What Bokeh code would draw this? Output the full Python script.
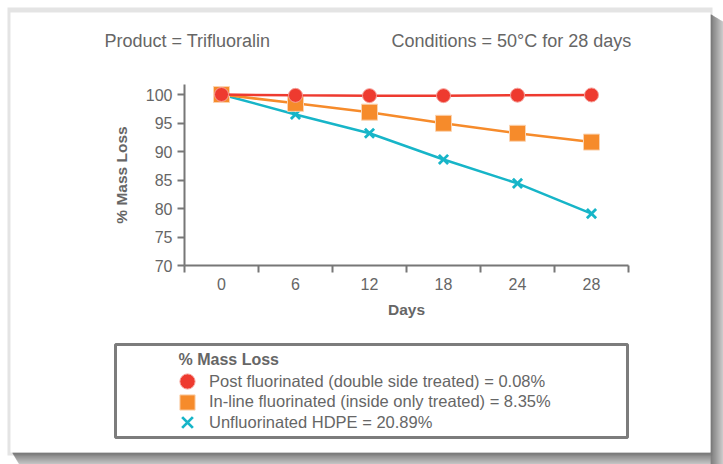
from bokeh.plotting import figure
from bokeh.models import FixedTicker, BoxAnnotation, Label, Legend, LegendItem, Range1d
from bokeh.embed import file_html
from bokeh.resources import INLINE

# ---- data ----
day_labels = ["0", "6", "12", "18", "24", "28"]
post_fluorinated = [100.0, 99.85, 99.8, 99.8, 99.88, 99.92]
inline_fluorinated = [100.0, 98.45, 96.9, 94.95, 93.2, 91.65]
unfluorinated = [100.0, 96.5, 93.2, 88.6, 84.4, 79.11]
y_ticks = [70, 75, 80, 85, 90, 95, 100]
y_min, y_top = 70, 101.75
header_left = "Product = Trifluoralin"
header_right = "Conditions = 50°C for 28 days"
x_title = "Days"
y_title = "% Mass Loss"
legend_title = "% Mass Loss"
legend_labels = [
    "Post fluorinated (double side treated) = 0.08%",
    "In-line fluorinated (inside only treated) = 8.35%",
    "Unfluorinated HDPE = 20.89%",
]

# ---- style / layout ----
RED = "#EE3A2F"
ORANGE = "#F68B2B"
CYAN = "#17B5C8"
AXIS = "#777777"
TEXT = "#666666"
FONT = "Liberation Sans"

W, H = 723, 464
PLOT_L, PLOT_R = 184, 628        # pixel extent of the category axis
X_AXIS_Y, Y100_PX = 265, 94      # pixel of y=70 and y=100
n = len(day_labels)
cat_w = (PLOT_R - PLOT_L) / n
px_per_unit = (X_AXIS_Y - Y100_PX) / (100 - y_min)
xs = list(range(n))

x_range = Range1d(-0.5 - PLOT_L / cat_w, -0.5 + (W - PLOT_L) / cat_w)
y_range = Range1d(y_min - (H - X_AXIS_Y) / px_per_unit, y_min + X_AXIS_Y / px_per_unit)

p = figure(width=W, height=H, output_backend="svg", toolbar_location=None,
           x_range=x_range, y_range=y_range,
           min_border_left=0, min_border_right=0, min_border_top=0, min_border_bottom=0)
p.border_fill_color = "white"
p.background_fill_color = "white"
p.outline_line_color = None
p.grid.visible = False


def sy(v):
    return H - v


def box(l, r, t, b, color, level="underlay", **kw):
    return BoxAnnotation(left=l, right=r, top=sy(t), bottom=sy(b),
                         left_units="screen", right_units="screen",
                         top_units="screen", bottom_units="screen",
                         fill_color=color, fill_alpha=1 if color else 0,
                         level=level, **kw)


# ---- card and shadow ----
p.add_layout(box(7, 712, 7, 455, "#e4e4e4", line_color=None))
shade = ["#555555", "#5b5b5b", "#626262", "#6a6a6a", "#727272", "#7b7b7b", "#848484",
         "#8d8d8d", "#969696", "#9f9f9f", "#a8a8a8", "#b1b1b1", "#bababa"]
for i, c in enumerate(shade):
    p.add_layout(box(710 + i, 711 + i, 14 + i * 0.6, H, c, line_color=None))
    if i < 12:
        p.add_layout(box(12 + i * 0.6, 710, 452 + i, 453 + i, c, line_color=None))
p.add_layout(box(10, 710, 12, 452, "white", line_color=None))

# ---- axes ----
p.xaxis.fixed_location = y_min
p.xaxis.bounds = (-0.5, n - 0.5)
p.xaxis.ticker = FixedTicker(ticks=xs, minor_ticks=[i - 0.5 for i in range(n + 1)])
p.xaxis.major_label_overrides = {i: lab for i, lab in enumerate(day_labels)}
p.xaxis.major_tick_line_color = None
p.xaxis.major_tick_out = 6
p.xaxis.major_tick_in = 0
p.xaxis.minor_tick_line_color = AXIS
p.xaxis.minor_tick_line_width = 2
p.xaxis.minor_tick_out = 7
p.xaxis.minor_tick_in = 0
p.xaxis.major_label_standoff = 5
p.xaxis.axis_label = x_title
p.xaxis.axis_label_standoff = 8

p.yaxis.fixed_location = -0.5
p.yaxis.bounds = (y_min, y_top)
p.yaxis.ticker = FixedTicker(ticks=y_ticks)
p.yaxis.major_tick_line_color = AXIS
p.yaxis.major_tick_line_width = 2
p.yaxis.major_tick_out = 7
p.yaxis.major_tick_in = 0
p.yaxis.minor_tick_line_color = None
p.yaxis.major_label_standoff = 5
p.yaxis.axis_label = y_title
p.yaxis.axis_label_standoff = 13

for ax in (p.xaxis, p.yaxis):
    ax.axis_line_color = AXIS
    ax.axis_line_width = 2
    ax.major_label_text_font = FONT
    ax.major_label_text_font_size = "16px"
    ax.major_label_text_color = TEXT
    ax.axis_label_text_font = FONT
    ax.axis_label_text_font_size = "15.5px"
    ax.axis_label_text_font_style = "bold"
    ax.axis_label_text_color = TEXT

# ---- series ----
p.line(xs, unfluorinated, line_color=CYAN, line_width=2.5)
r_cyan = p.scatter(xs, unfluorinated, marker="x", size=13, line_color=CYAN, line_width=2.8)
p.line(xs, inline_fluorinated, line_color=ORANGE, line_width=2.5)
r_orange = p.scatter(xs, inline_fluorinated, marker="square", size=16, fill_color=ORANGE,
                     line_color="#fbd3b0", line_width=1)
p.line(xs, post_fluorinated, line_color=RED, line_width=2.5)
r_red = p.scatter(xs, post_fluorinated, marker="circle", size=14, fill_color=RED,
                  line_color="#f6a19a", line_width=1)

# ---- header texts ----
for txt, x in ((header_left, 104), (header_right, 391)):
    p.add_layout(Label(x=x, y=sy(40), x_units="screen", y_units="screen", text=txt,
                       text_font=FONT, text_font_size="18px", text_color=TEXT,
                       text_baseline="middle", text_align="left"))

# ---- legend ----
p.add_layout(box(115, 627, 344, 437, None, level="annotation",
                 line_color="#7c7c7c", line_alpha=1, line_width=3))
p.add_layout(Label(x=178, y=sy(359), x_units="screen", y_units="screen", text=legend_title,
                   text_font=FONT, text_font_size="16px", text_font_style="bold", text_color=TEXT,
                   text_baseline="middle", text_align="left"))
GLYPH = 38
row_centers = [381, 401.5, 422]
for lab, rend, yc in zip(legend_labels, [r_red, r_orange, r_cyan], row_centers):
    lg = Legend(items=[LegendItem(label=lab, renderers=[rend])],
                location=(168, sy(yc + GLYPH / 2)), orientation="vertical",
                glyph_width=GLYPH, glyph_height=GLYPH, label_height=20,
                padding=0, margin=0, label_standoff=3, spacing=0,
                border_line_color=None, background_fill_alpha=0,
                label_text_font=FONT, label_text_font_size="16.5px", label_text_color=TEXT)
    p.add_layout(lg, "center")

open("out.html", "w").write(file_html(p, INLINE))
